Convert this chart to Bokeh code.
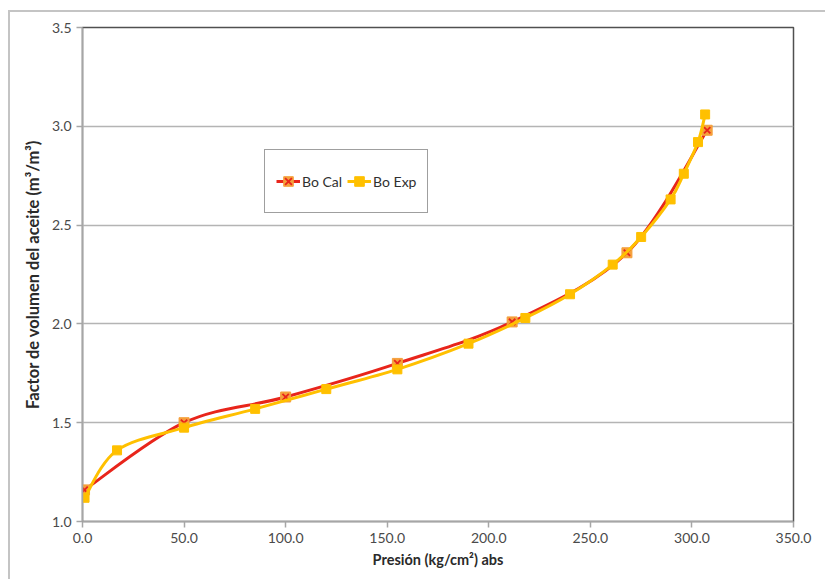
from bokeh.plotting import figure
from bokeh.models import (Range1d, SingleIntervalTicker, NumeralTickFormatter,
                          Legend, LegendItem, ColumnDataSource)
from bokeh.embed import file_html
from bokeh.resources import INLINE

# ---- data ----
cal_p = [1.0, 50.0, 100.0, 155.0, 211.5, 268.0, 307.5]
cal_bo = [1.16, 1.50, 1.63, 1.80, 2.01, 2.36, 2.98]

exp_p = [1.0, 17.0, 50.0, 85.0, 120.0, 155.0, 190.0, 218.0, 240.0, 261.0,
         275.0, 289.5, 296.0, 303.0, 306.5]
exp_bo = [1.12, 1.36, 1.475, 1.57, 1.67, 1.77, 1.90, 2.03, 2.15, 2.30,
          2.44, 2.63, 2.76, 2.92, 3.06]

x_ticks_interval = 50
y_ticks_interval = 0.5

FONT = "Lato"
TXT = "#4a4a4a"


def smooth_segments(xs, ys):
    """Cubic Bezier segments (Catmull-Rom style smoothing, like a spreadsheet's smoothed line)."""
    n = len(xs)
    d = dict(x0=[], y0=[], x1=[], y1=[], cx0=[], cy0=[], cx1=[], cy1=[])
    for i in range(n - 1):
        xa, ya = xs[max(i - 1, 0)], ys[max(i - 1, 0)]
        xb, yb = xs[i], ys[i]
        xc, yc = xs[i + 1], ys[i + 1]
        xd, yd = xs[min(i + 2, n - 1)], ys[min(i + 2, n - 1)]
        d["x0"].append(xb); d["y0"].append(yb)
        d["x1"].append(xc); d["y1"].append(yc)
        d["cx0"].append(xb + (xc - xa) / 6.0); d["cy0"].append(yb + (yc - ya) / 6.0)
        d["cx1"].append(xc - (xd - xb) / 6.0); d["cy1"].append(yc - (yd - yb) / 6.0)
    return ColumnDataSource(d)


p = figure(width=825, height=579, output_backend="svg", toolbar_location=None,
           x_range=Range1d(0, 350), y_range=Range1d(1.0, 3.5),
           min_border_left=82, min_border_right=32, min_border_top=27,
           min_border_bottom=58)

p.background_fill_color = "white"
p.border_fill_color = "white"
p.border_fill_alpha = 0.0
p.outline_line_color = "#505050"
p.outline_line_width = 1.5
# light chart-area border: visible only on the left and top edges
p.styles = {
    "background-color": "white",
    "background-image": "linear-gradient(#c4c4c4, #c4c4c4), linear-gradient(#c4c4c4, #c4c4c4)",
    "background-size": "2px 100%, 100% 2px",
    "background-position": "8px 10px, 8px 10px",
    "background-repeat": "no-repeat",
}

p.xgrid.visible = False
p.ygrid.grid_line_color = "#b4b4b4"
p.ygrid.grid_line_width = 1.5
p.ygrid.ticker = SingleIntervalTicker(interval=y_ticks_interval)

for ax in (p.xaxis[0], p.yaxis[0]):
    ax.axis_line_color = "#a6a6a6"
    ax.axis_line_width = 1.5
    ax.major_tick_line_color = "#a6a6a6"
    ax.major_tick_line_width = 1.5
    ax.major_tick_out = 6
    ax.major_tick_in = 0
    ax.minor_tick_line_color = None
    ax.major_label_text_font = FONT
    ax.major_label_text_font_size = "14px"
    ax.major_label_text_color = TXT
    ax.axis_label_text_font = FONT
    ax.axis_label_text_font_style = "bold"
    ax.axis_label_text_color = "#2a2a2a"
    ax.formatter = NumeralTickFormatter(format="0.0")

p.xaxis[0].axis_label_text_font_size = "14.5px"
p.yaxis[0].axis_label_text_font_size = "16.5px"
p.xaxis[0].ticker = SingleIntervalTicker(interval=x_ticks_interval)
p.yaxis[0].ticker = SingleIntervalTicker(interval=y_ticks_interval)
p.xaxis[0].axis_label = "Presión (kg/cm²) abs"
p.yaxis[0].axis_label = "Factor de volumen del aceite (m³/m³)"
p.xaxis[0].major_label_standoff = 5
p.yaxis[0].major_label_standoff = 5
p.xaxis[0].axis_label_standoff = 5
p.yaxis[0].axis_label_standoff = 6

RED = "#E8251B"
ORG = "#F5A03C"
YEL = "#FFC000"

cal_src = ColumnDataSource(dict(x=cal_p, y=cal_bo))
exp_src = ColumnDataSource(dict(x=exp_p, y=exp_bo))

r_cal_line = p.bezier(x0="x0", y0="y0", x1="x1", y1="y1", cx0="cx0", cy0="cy0",
                      cx1="cx1", cy1="cy1", source=smooth_segments(cal_p, cal_bo),
                      line_color=RED, line_width=3)
r_cal_sq = p.scatter("x", "y", source=cal_src, marker="square", size=10,
                     fill_color=ORG, line_color=ORG, line_width=1)
r_cal_x = p.scatter("x", "y", source=cal_src, marker="x", size=9,
                    line_color=RED, line_width=1.8)

r_exp_line = p.bezier(x0="x0", y0="y0", x1="x1", y1="y1", cx0="cx0", cy0="cy0",
                      cx1="cx1", cy1="cy1", source=smooth_segments(exp_p, exp_bo),
                      line_color=YEL, line_width=3)
r_exp_pts = p.scatter("x", "y", source=exp_src, marker="square", size=9,
                      fill_color=YEL, line_color=YEL)

legend = Legend(items=[LegendItem(label="Bo Cal", renderers=[r_cal_line, r_cal_sq, r_cal_x]),
                       LegendItem(label="Bo Exp", renderers=[r_exp_line, r_exp_pts])],
                orientation="horizontal", location=(182, 308),
                border_line_color="#404040", border_line_width=1.2,
                background_fill_color="white", background_fill_alpha=1,
                padding=11, spacing=5, margin=0,
                glyph_width=24, glyph_height=40, label_standoff=2,
                label_text_font=FONT, label_text_font_size="14px",
                label_text_color="#303030")
p.add_layout(legend, "center")

open("out.html", "w").write(file_html(p, INLINE))
